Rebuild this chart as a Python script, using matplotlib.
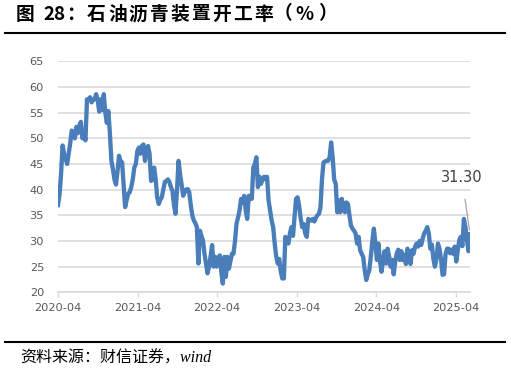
import matplotlib
matplotlib.use("Agg")
import matplotlib.pyplot as plt
import matplotlib.dates as mdates
from matplotlib.lines import Line2D
import pandas as pd

# weekly operating rate of asphalt plants (%)
rate = [
    37, 39, 43, 48.6, 47, 46, 45, 47, 49, 51.5,
    51, 50, 52.2, 51, 52.5, 53.2, 50, 51, 49.6, 57.6,
    57.5, 58, 57, 57.5, 57.6, 58.6, 57.5, 55.2, 57.6, 55.5,
    58.6, 55, 53, 55.3, 51, 45.6, 44, 42, 41, 43.5,
    46.6, 45.5, 45.3, 41, 36.6, 38, 39.2, 39.5, 40.5, 42,
    44.3, 45, 47.5, 48.2, 47, 48.5, 48.8, 45.6, 47.5, 48.5,
    47, 41.7, 42, 44.3, 42, 38.5, 37.2, 38, 38.5, 40,
    41.5, 41.7, 42, 41.5, 40.5, 39.8, 37, 35.3, 40, 45.6,
    43, 41, 38.8, 39.5, 40, 40.1, 39.5, 37, 35, 34,
    33.5, 32.7, 25.6, 32, 31, 30.1, 27.5, 25.6, 23.7, 25,
    27, 29.2, 25, 26.9, 25, 26.5, 27.2, 24, 21.7, 26.9,
    23, 26.9, 24.6, 26, 27.5, 27.5, 30, 33.4, 34.6, 36,
    38.2, 37.5, 38.8, 36, 34.3, 38.8, 38.5, 38.2, 44.3, 45,
    46.3, 40.5, 42.5, 41.1, 42, 42.5, 42, 42.5, 37.9, 36,
    34, 32.7, 29.5, 27, 25.6, 26.5, 24, 22.7, 22.7, 30.8,
    30, 29.5, 31.5, 32.7, 31, 34.6, 38.2, 38.5, 36.9, 34.5,
    32.7, 33.3, 31.5, 30.8, 34.3, 34, 34, 34.3, 33.8, 34.5,
    35, 35.3, 36.5, 42, 45.3, 45.5, 45.6, 45.6, 46.3, 49.2,
    46.3, 42, 41.1, 35.6, 37.9, 35.6, 38.2, 36.5, 35.6, 37.5,
    37.2, 35, 33, 32.4, 32, 31.5, 29.5, 30.8, 28.2, 27.5,
    26.9, 24.3, 22.4, 23.5, 24.3, 26.9, 30, 32.4, 29.5, 26.3,
    29.5, 26, 24, 26.3, 28, 25.6, 28.5, 27, 25, 26.3,
    23.5, 26, 27.6, 28.3, 26.3, 28, 26.3, 27.3, 25.5, 28.5,
    26.9, 25.5, 28.2, 27.5, 28.9, 29.5, 28.9, 30, 29.2, 30.5,
    31.5, 32, 32.7, 31.5, 28.5, 29.3, 26.5, 25, 26.5, 29.5,
    28.5, 26.5, 23.4, 23.5, 27.5, 28.5, 28.5, 27.6, 28.3, 27.5,
    28.9, 26, 28.2, 30.2, 30.8, 29, 34.3, 32.7, 30.2, 28,
    31.3,
]
dates = pd.date_range("2020-04-01", periods=len(rate), freq="7D")

y_ticks = [20, 25, 30, 35, 40, 45, 50, 55, 60, 65]
x_ticks = pd.to_datetime(["2020-04-01", "2021-04-01", "2022-04-01",
                          "2023-04-01", "2024-04-01", "2025-04-01"])
last_label = "31.30"

title = "图 28：石油沥青装置开工率（%）"
source = "资料来源：财信证券，wind"

W, H = 511, 374
fig = plt.figure(figsize=(W / 100, H / 100), dpi=100)
ax = fig.add_axes([58 / W, 1 - 292.3 / H, (470 - 58) / W, (292.3 - 61.3) / H])

grid_c = "#d9d9d9"
txt_c = "#595959"
ax.plot(dates, rate, color="#4a7ebb", lw=3.1, solid_joinstyle="round", zorder=3)

ax.set_ylim(20, 65)
ax.set_yticks(y_ticks)
ax.set_xlim(dates[0], dates[-1])
ax.set_xticks(x_ticks)
ax.xaxis.set_major_formatter(mdates.DateFormatter("%Y-%m"))
ax.grid(axis="y", color=grid_c, lw=1.1)
ax.set_axisbelow(True)
for s in ["left", "right", "top"]:
    ax.spines[s].set_visible(False)
ax.spines["bottom"].set_color(grid_c)
ax.spines["bottom"].set_linewidth(1.1)
ax.tick_params(axis="y", length=0, pad=10, labelsize=8.2, labelcolor=txt_c)
ax.tick_params(axis="x", length=3.6, width=1, color=grid_c, pad=4,
               labelsize=8.2, labelcolor=txt_c)

# label for the latest value with its leader line
ax.annotate(last_label, xy=(dates[-1], rate[-1]), xytext=(462 / W, 1 - 178 / H),
            textcoords="figure fraction", ha="center", va="center",
            fontsize=10.5, color="#404040",
            arrowprops=dict(arrowstyle="-", color="#a6a6a6", lw=0.9,
                            shrinkA=8, shrinkB=3))

# title, laid out with the wide character spacing of the original
cjk = ["Noto Sans CJK SC", "DejaVu Sans"]
def put(s, x0, pitch=None):
    if pitch is None:
        fig.text(x0 / W, 1 - 14 / H, s, fontsize=13.5, fontweight="bold",
                 family=cjk, va="center", ha="left")
        return
    for k, ch in enumerate(s):
        fig.text((x0 + k * pitch) / W, 1 - 14 / H, ch, fontsize=13.5,
                 fontweight="bold", family=cjk, va="center", ha="left")

put(title[0], 16)
put(title[2:4], 43)
put(title[4], 66)
put(title[5:14], 87, pitch=20.9)
put(title[14], 274)
put(title[15], 295)
put(title[16], 318)

fig.add_artist(Line2D([5 / W, 505 / W], [1 - 32.5 / H] * 2, color="black", lw=1.5))
fig.add_artist(Line2D([5 / W, 505 / W], [1 - 342 / H] * 2, color="black", lw=1.5))

fig.text(20 / W, 1 - 359 / H, source, fontsize=11.5, style="italic",
         family=["Liberation Serif", "Noto Sans CJK SC"], va="center", ha="left")

fig.savefig("out.png", dpi=100)
